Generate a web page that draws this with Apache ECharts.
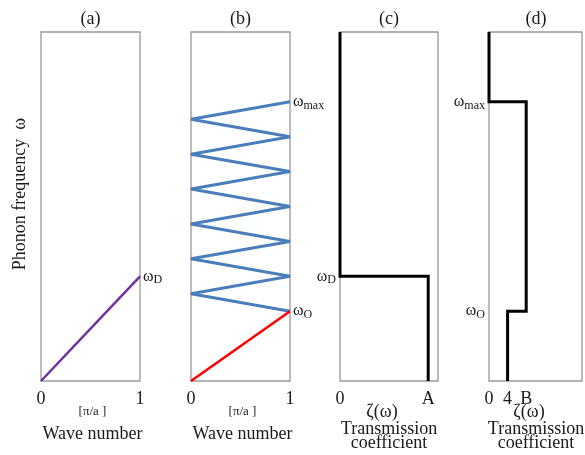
<!DOCTYPE html>
<html><head><meta charset="utf-8">
<script src="https://cdn.jsdelivr.net/npm/echarts@6/dist/echarts.min.js"></script>
<style>html,body{margin:0;padding:0;background:#fff}#c{width:585px;height:455px}</style>
</head><body><div id="c"></div>
<script>
// ---- data ----
const panelTitles = ['(a)', '(b)', '(c)', '(d)'];
// (a) dispersion of lead: straight line up to omega_D
const aX = [0, 1];
const aY = [0, 0.3];
// (b) folded zigzag dispersion
const bRedX = [0, 1];
const bRedY = [0, 0.2];
const bBlueX = [1, 0, 1, 0, 1, 0, 1, 0, 1, 0, 1, 0, 1];
const bBlueY = [0.2, 0.25, 0.3, 0.35, 0.4, 0.45, 0.5, 0.55, 0.6, 0.65, 0.7, 0.75, 0.8];
// (c) transmission coefficient step
const cX = [0, 0, 0.9, 0.9];
const cY = [1, 0.3, 0.3, 0];
// (d) transmission coefficient steps
const dX = [0, 0, 0.4, 0.4, 0.2, 0.2];
const dY = [1, 0.8, 0.8, 0.2, 0.2, 0];
// tick labels
const xTicksAB = { '0': '0', '1': '1' };
const xTicksC = { '0': '0', '0.9': 'A' };
const xTicksD = { '0': '0', '0.2': '4', '0.4': 'B' };
const yTicksC = { '0.3': ['ω', 'D'] };
const yTicksD = { '0.8': ['ω', 'max'], '0.2': ['ω', 'O'] };
const bottomAB = ['[π/a ]', 'Wave number'];
const bottomCD = ['ζ(ω)', 'Transmission', 'coefficient'];
const yAxisTitle = 'Phonon frequency  ω';

// ---- layout ----
const FF = "'Liberation Serif','Times New Roman',serif";
const TC = '#1a1a1a';
const grids = [
  { left: 41, top: 32, width: 99, height: 349 },
  { left: 191, top: 32, width: 99, height: 349 },
  { left: 340, top: 32, width: 98, height: 349 },
  { left: 489, top: 32, width: 94, height: 349 }
];
const rich = {
  w: { fontSize: 16, fontFamily: FF, color: TC },
  s: { fontSize: 12, fontFamily: FF, color: TC, padding: [8, 0, 0, 0] }
};
const key = v => String(Math.round(v * 10) / 10);
const sub = p => '{w|' + p[0] + '}{s|' + p[1] + '}';
const pairs = (xs, ys) => xs.map((x, i) => [x, ys[i]]);

const xAxes = [], yAxes = [];
const xMaps = [xTicksAB, xTicksAB, xTicksC, xTicksD];
const yMaps = [null, null, yTicksC, yTicksD];
for (let i = 0; i < 4; i++) {
  xAxes.push({
    gridIndex: i, type: 'value', min: 0, max: 1, interval: 0.1,
    axisLine: { show: false }, axisTick: { show: false }, splitLine: { show: false },
    axisLabel: { margin: 9, fontSize: 18, fontFamily: FF, color: TC,
      formatter: v => xMaps[i][key(v)] || '' }
  });
  yAxes.push({
    gridIndex: i, type: 'value', min: 0, max: 1, interval: 0.1,
    axisLine: { show: false }, axisTick: { show: false }, splitLine: { show: false },
    axisLabel: yMaps[i] ? { show: true, margin: 4, rich: rich,
      formatter: v => yMaps[i][key(v)] ? sub(yMaps[i][key(v)]) : '' } : { show: false }
  });
}

function endLabel(p) {
  return { show: true, position: 'right', distance: 3, formatter: sub(p), rich: rich };
}
const aData = pairs(aX, aY);
aData[aData.length - 1] = { value: aData[aData.length - 1], label: endLabel(['ω', 'D']) };
const bRed = pairs(bRedX, bRedY);
bRed[bRed.length - 1] = { value: bRed[bRed.length - 1], label: endLabel(['ω', 'O']) };
const bBlue = pairs(bBlueX, bBlueY);
bBlue[bBlue.length - 1] = { value: bBlue[bBlue.length - 1], label: endLabel(['ω', 'max']) };

const lineBase = { type: 'line', symbol: 'circle', symbolSize: 0, showSymbol: true,
  clip: false, silent: true, animation: false, label: { show: false } };
const series = [
  Object.assign({}, lineBase, { xAxisIndex: 0, yAxisIndex: 0, data: aData,
    lineStyle: { color: '#7030a0', width: 2.5 } }),
  Object.assign({}, lineBase, { xAxisIndex: 1, yAxisIndex: 1, data: bBlue, z: 3,
    lineStyle: { color: '#4a7ebb', width: 3 } }),
  Object.assign({}, lineBase, { xAxisIndex: 1, yAxisIndex: 1, data: bRed, z: 4,
    lineStyle: { color: '#ff0000', width: 2.5 } }),
  Object.assign({}, lineBase, { xAxisIndex: 2, yAxisIndex: 2, data: pairs(cX, cY),
    lineStyle: { color: '#000', width: 3, join: 'miter' } }),
  Object.assign({}, lineBase, { xAxisIndex: 3, yAxisIndex: 3, data: pairs(dX, dY),
    lineStyle: { color: '#000', width: 3, join: 'miter' } })
];

const graphic = [];
function txt(x, y, t, size, extra) {
  graphic.push(Object.assign({ type: 'text', x: x, y: y, silent: true,
    style: { text: t, fontSize: size, fontFamily: FF, fill: TC,
      textAlign: 'center', textVerticalAlign: 'middle' } }, extra || {}));
}
grids.forEach((g, i) => {
  const cx = g.left + g.width / 2;
  txt(cx, 19, panelTitles[i], 18);
  if (i < 2) {
    txt(cx + 2, 412, bottomAB[0], 13);
    txt(cx + 2, 434, bottomAB[1], 18);
  } else {
    txt(cx - 7, 412, bottomCD[0], 18);
    txt(cx, 429, bottomCD[1], 18);
    txt(cx, 443, bottomCD[2], 18);
  }
});
txt(20, 194, yAxisTitle, 18, { rotation: Math.PI / 2 });

const chart = echarts.init(document.getElementById('c'), null, { renderer: 'canvas' });
chart.setOption({
  animation: false,
  backgroundColor: '#fff',
  grid: grids.map(g => Object.assign({ show: true, borderColor: '#999', borderWidth: 1.3,
    backgroundColor: 'transparent', containLabel: false }, g)),
  xAxis: xAxes,
  yAxis: yAxes,
  series: series,
  graphic: graphic
});
</script>
</body></html>
